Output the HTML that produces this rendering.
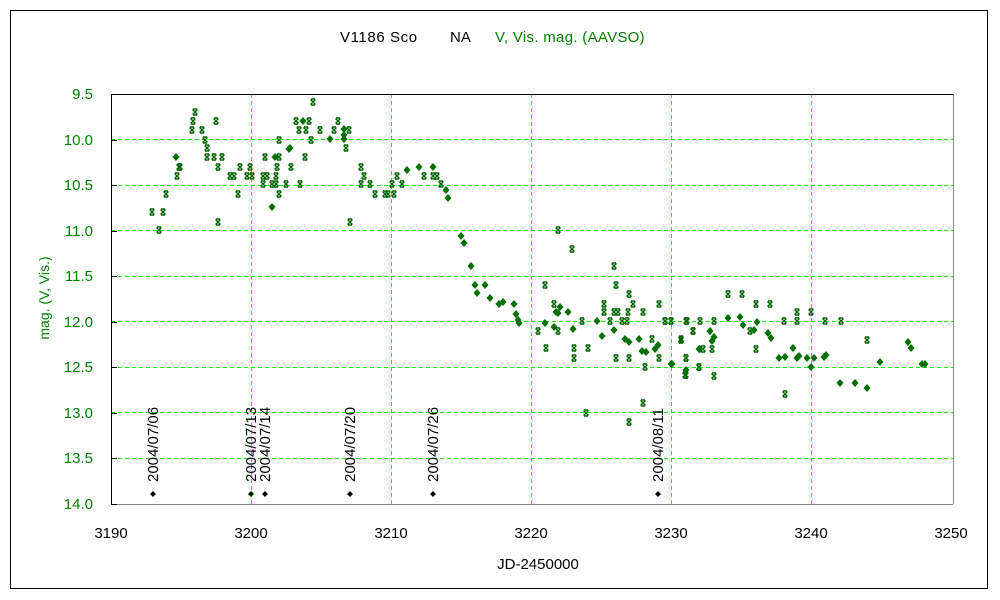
<!DOCTYPE html>
<html><head><meta charset="utf-8"><style>
body{margin:0;background:#fff}
svg{display:block;font-family:"Liberation Sans",sans-serif}
</style></head><body>
<svg id="s" width="1000" height="600" xmlns="http://www.w3.org/2000/svg">
<rect x="10.5" y="10.5" width="977" height="578" fill="none" stroke="#000"/>
<g stroke="#00ee00" stroke-dasharray="4,3" stroke-width="1" shape-rendering="crispEdges">
<line x1="251.5" y1="94" x2="251.5" y2="504"/><line x1="391.5" y1="94" x2="391.5" y2="504"/>
<line x1="531.5" y1="94" x2="531.5" y2="504"/><line x1="671.5" y1="94" x2="671.5" y2="504"/>
<line x1="811.5" y1="94" x2="811.5" y2="504"/>
<line x1="111" y1="139.5" x2="953" y2="139.5"/><line x1="111" y1="185.5" x2="953" y2="185.5"/>
<line x1="111" y1="230.5" x2="953" y2="230.5"/><line x1="111" y1="276.5" x2="953" y2="276.5"/>
<line x1="111" y1="321.5" x2="953" y2="321.5"/><line x1="111" y1="367.5" x2="953" y2="367.5"/>
<line x1="111" y1="412.5" x2="953" y2="412.5"/><line x1="111" y1="458.5" x2="953" y2="458.5"/>
</g>
<g shape-rendering="crispEdges">
<line x1="111" y1="504.5" x2="953" y2="504.5" stroke="#888"/>
<line x1="953.5" y1="94" x2="953.5" y2="504" stroke="#888"/>
<line x1="111" y1="94.5" x2="953" y2="94.5" stroke="#000"/>
<line x1="111.5" y1="94" x2="111.5" y2="504" stroke="#000"/>
<g stroke="#000" id="ticks"></g>
</g>
<g fill="#008000" font-size="15" text-anchor="end">
<text x="93" y="99">9.5</text><text x="93" y="145">10.0</text><text x="93" y="190">10.5</text>
<text x="93" y="236">11.0</text><text x="93" y="281">11.5</text><text x="93" y="327">12.0</text>
<text x="93" y="372">12.5</text><text x="93" y="418">13.0</text><text x="93" y="463">13.5</text>
<text x="93" y="509">14.0</text>
</g>
<g fill="#000" font-size="15" text-anchor="middle">
<text x="111" y="538">3190</text><text x="251" y="538">3200</text><text x="391" y="538">3210</text>
<text x="531" y="538">3220</text><text x="671" y="538">3230</text><text x="811" y="538">3240</text>
<text x="951" y="538">3250</text>
<text x="538" y="569">JD-2450000</text>
</g>
<text x="340" y="42" font-size="15" fill="#000" letter-spacing="0.6">V1186 Sco</text>
<text x="450" y="42" font-size="15" fill="#000">NA</text>
<text x="495" y="42" font-size="15" fill="#008000" letter-spacing="0.3">V, Vis. mag. (AAVSO)</text>
<text transform="translate(49,298) rotate(-90)" font-size="14" fill="#008000" text-anchor="middle">mag. (V, Vis.)</text>
<g id="ann" font-size="15" fill="#000"></g>
<g id="ast" stroke="#006400" stroke-width="1.4"></g>
<g id="dia" fill="#007000"></g>
</svg>
<script>
var NS="http://www.w3.org/2000/svg";
function el(p,t,a,txt){var e=document.createElementNS(NS,t);for(var k in a)e.setAttribute(k,a[k]);if(txt)e.textContent=txt;document.getElementById(p).appendChild(e);}
for(var i=0;i<10;i++){var y=Math.round(94+i*45.5)+0.5;el("ticks","line",{x1:111,y1:y,x2:117,y2:y});}
var ann=[[153,"2004/07/06"],[251,"2004/07/13"],[265,"2004/07/14"],[350,"2004/07/20"],[433,"2004/07/26"],[658,"2004/08/11"]];
ann.forEach(function(a){el("ann","text",{transform:"translate("+(a[0]+5)+",482) rotate(-90)"},a[1]);
el("ann","path",{d:"M"+a[0]+" 491l3 3l-3 3l-3 -3z"});});
var A=[[195,112],[193,121],[216,121],[192,130],[202,130],[205,140],[207,148],[207,157],[214,157],[222,157],[179,167],[218,167],[177,176],[230,176],[234,176],[247,176],[252,176],[263,176],[267,176],[276,176],[166,194],[238,194],[279,194],[152,212],[163,212],[218,222],[159,230],[313,102],[296,121],[309,121],[338,121],[299,130],[306,130],[320,130],[334,130],[349,130],[279,140],[311,140],[346,148],[265,157],[279,157],[305,157],[250,167],[277,167],[291,167],[361,167],[364,176],[397,176],[263,184],[272,184],[276,184],[286,184],[300,184],[361,184],[370,184],[392,184],[402,184],[375,194],[385,194],[388,194],[394,194],[350,222],
[424,176],[433,176],[437,176],[441,184],[558,230],[572,249],[614,266],[545,285],[616,285],[629,294],[554,304],[604,304],[633,304],[659,304],[604,312],[614,312],[618,312],[628,312],[643,312],[582,321],[610,321],[622,321],[627,321],[665,321],[671,321],[687,321],[538,331],[558,331],[693,331],[546,348],[574,348],[588,348],[574,358],[616,358],[629,358],[659,358],[686,358],[645,367],[652,339],[681,339],[586,413],[643,403],[629,422],[686,375],[699,367],
[728,294],[742,294],[756,304],[770,304],[797,312],[811,312],[665,321],[671,321],[686,321],[700,321],[714,321],[784,321],[797,321],[825,321],[841,321],[693,331],[681,340],[867,340],[750,331],[703,349],[712,349],[756,349],[686,358],[699,367],[685,375],[714,376],[785,394],[180,167],[240,167]];
A.forEach(function(p){var x=p[0],y=p[1];el("ast","path",{d:"M"+(x-2.5)+" "+(y-2.5)+"L"+(x+2.5)+" "+(y+2.5)+"M"+(x+2.5)+" "+(y-2.5)+"L"+(x-2.5)+" "+(y+2.5)+"M"+(x-2)+" "+(y-3)+"h4M"+(x-2)+" "+(y+3)+"h4"});});
var D=[[176,157],[303,121],[330,139],[344,129],[344,135],[344,139],[289,149],[275,157],[272,207],[407,170],[419,167],[433,167],[446,190],[448,198],[461,236],[464,243],[471,266],[475,285],[477,293],[485,285],[490,298],[499,304],[503,302],[514,304],[516,314],[518,320],[519,323],[545,323],[554,327],[558,313],[560,307],[568,312],[573,329],[597,321],[602,336],[614,330],[625,339],[629,342],[639,339],[642,351],[646,352],[655,349],[658,345],[672,364],[686,370],[699,349],
[671,364],[700,349],[710,331],[712,341],[714,337],[728,318],[740,317],[743,325],[754,330],[757,322],[768,333],[771,338],[779,358],[785,357],[793,348],[797,358],[799,356],[807,358],[811,367],[814,358],[824,357],[826,355],[840,383],[855,383],[867,388],[880,362],[908,342],[911,348],[922,364],[925,364],[290,148],[556,312]];
D.forEach(function(p){el("dia","path",{d:"M"+p[0]+" "+(p[1]-4)+"l3.5 4l-3.5 4l-3.5 -4z"});});
</script>
</body></html>
